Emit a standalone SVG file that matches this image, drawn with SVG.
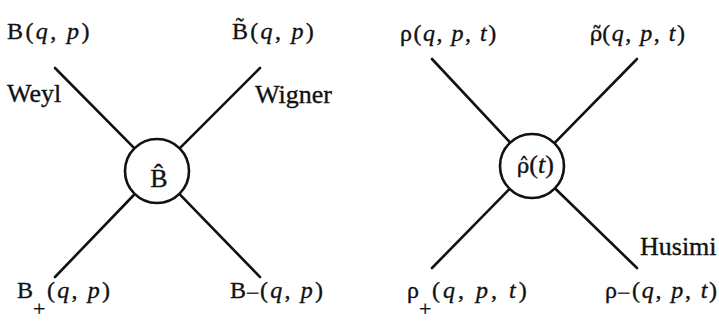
<svg xmlns="http://www.w3.org/2000/svg" width="719" height="322" viewBox="0 0 719 322">
<style>
text{font-family:"Liberation Serif","Times New Roman",serif;fill:#111;stroke:#111;stroke-width:0.35;}
.lbl{font-size:24px;}
.nm{font-size:26px;}
.op{font-size:26px;}
.i{font-style:italic;}
.gk{font-family:"DejaVu Serif",serif;font-size:21px;}
.con line{stroke:#111;stroke-width:2.6;stroke-linecap:round;}
.ring{fill:#fff;stroke:#111;stroke-width:2.6;}
</style>
<rect width="719" height="322" fill="#fff"/>
<g id="connectors" class="con">
<line x1="55" y1="68" x2="134.5" y2="148.3"/>
<line x1="260" y1="68" x2="179.6" y2="148.4"/>
<line x1="55" y1="277" x2="134.8" y2="194"/>
<line x1="260" y1="277" x2="179.3" y2="193.9"/>
<line x1="432" y1="59" x2="510.2" y2="142.6"/>
<line x1="637" y1="59" x2="554.4" y2="143.2"/>
<line x1="432" y1="268" x2="509.6" y2="188.9"/>
<line x1="637" y1="268" x2="554.9" y2="188.3"/>
</g>
<g id="op-B">
<circle class="ring" cx="157" cy="171" r="32"/>
<text class="op" x="159" y="187" text-anchor="middle">B&#770;</text>
</g>
<g id="op-rho">
<circle class="ring" cx="532" cy="166" r="32"/>
<text class="op" x="517" y="173"><tspan class="gk" font-size="23">&#961;&#770;</tspan>(<tspan class="i">t</tspan>)</text>
</g>
<g id="B-weyl">
<text class="lbl" x="7" y="39" letter-spacing="2.4">B(<tspan class="i">q</tspan>, <tspan class="i">p</tspan>)</text>
</g>
<g id="B-wigner">
<text class="lbl" x="232" y="39" letter-spacing="2.3">B&#771;(<tspan class="i">q</tspan>, <tspan class="i">p</tspan>)</text>
</g>
<g id="B-plus">
<text class="lbl" x="17" y="298">B<tspan font-size="22" dy="18">+</tspan><tspan x="47" dy="-18" letter-spacing="2.2">(<tspan class="i">q</tspan>, <tspan class="i">p</tspan>)</tspan></text>
</g>
<g id="B-minus">
<text class="lbl" x="230" y="298">B<tspan dy="3">&#8722;</tspan><tspan x="260" dy="-3" letter-spacing="2.2">(<tspan class="i">q</tspan>, <tspan class="i">p</tspan>)</tspan></text>
</g>
<g id="rho-1">
<text class="lbl" x="400" y="41" letter-spacing="1.5">&#961;(<tspan class="i">q</tspan>, <tspan class="i">p</tspan>, <tspan class="i">t</tspan>)</text>
</g>
<g id="rho-2">
<text class="lbl" x="590" y="41" letter-spacing="1.5"><tspan class="gk" letter-spacing="0">&#961;&#771;</tspan>(<tspan class="i">q</tspan>, <tspan class="i">p</tspan>, <tspan class="i">t</tspan>)</text>
</g>
<g id="rho-plus">
<text class="lbl" x="407" y="298">&#961;<tspan font-size="22" dy="18">+</tspan><tspan x="432" dy="-18" letter-spacing="3">(<tspan class="i">q</tspan>, <tspan class="i">p</tspan>, <tspan class="i">t</tspan>)</tspan></text>
</g>
<g id="rho-minus">
<text class="lbl" x="605" y="298">&#961;<tspan dy="3">&#8722;</tspan><tspan x="632" dy="-3" letter-spacing="1.8">(<tspan class="i">q</tspan>, <tspan class="i">p</tspan>, <tspan class="i">t</tspan>)</tspan></text>
</g>
<g id="label-weyl"><text class="nm" x="7" y="102">Weyl</text></g>
<g id="label-wigner"><text class="nm" x="255" y="103">Wigner</text></g>
<g id="label-husimi"><text class="nm" x="640" y="255">Husimi</text></g>
</svg>
